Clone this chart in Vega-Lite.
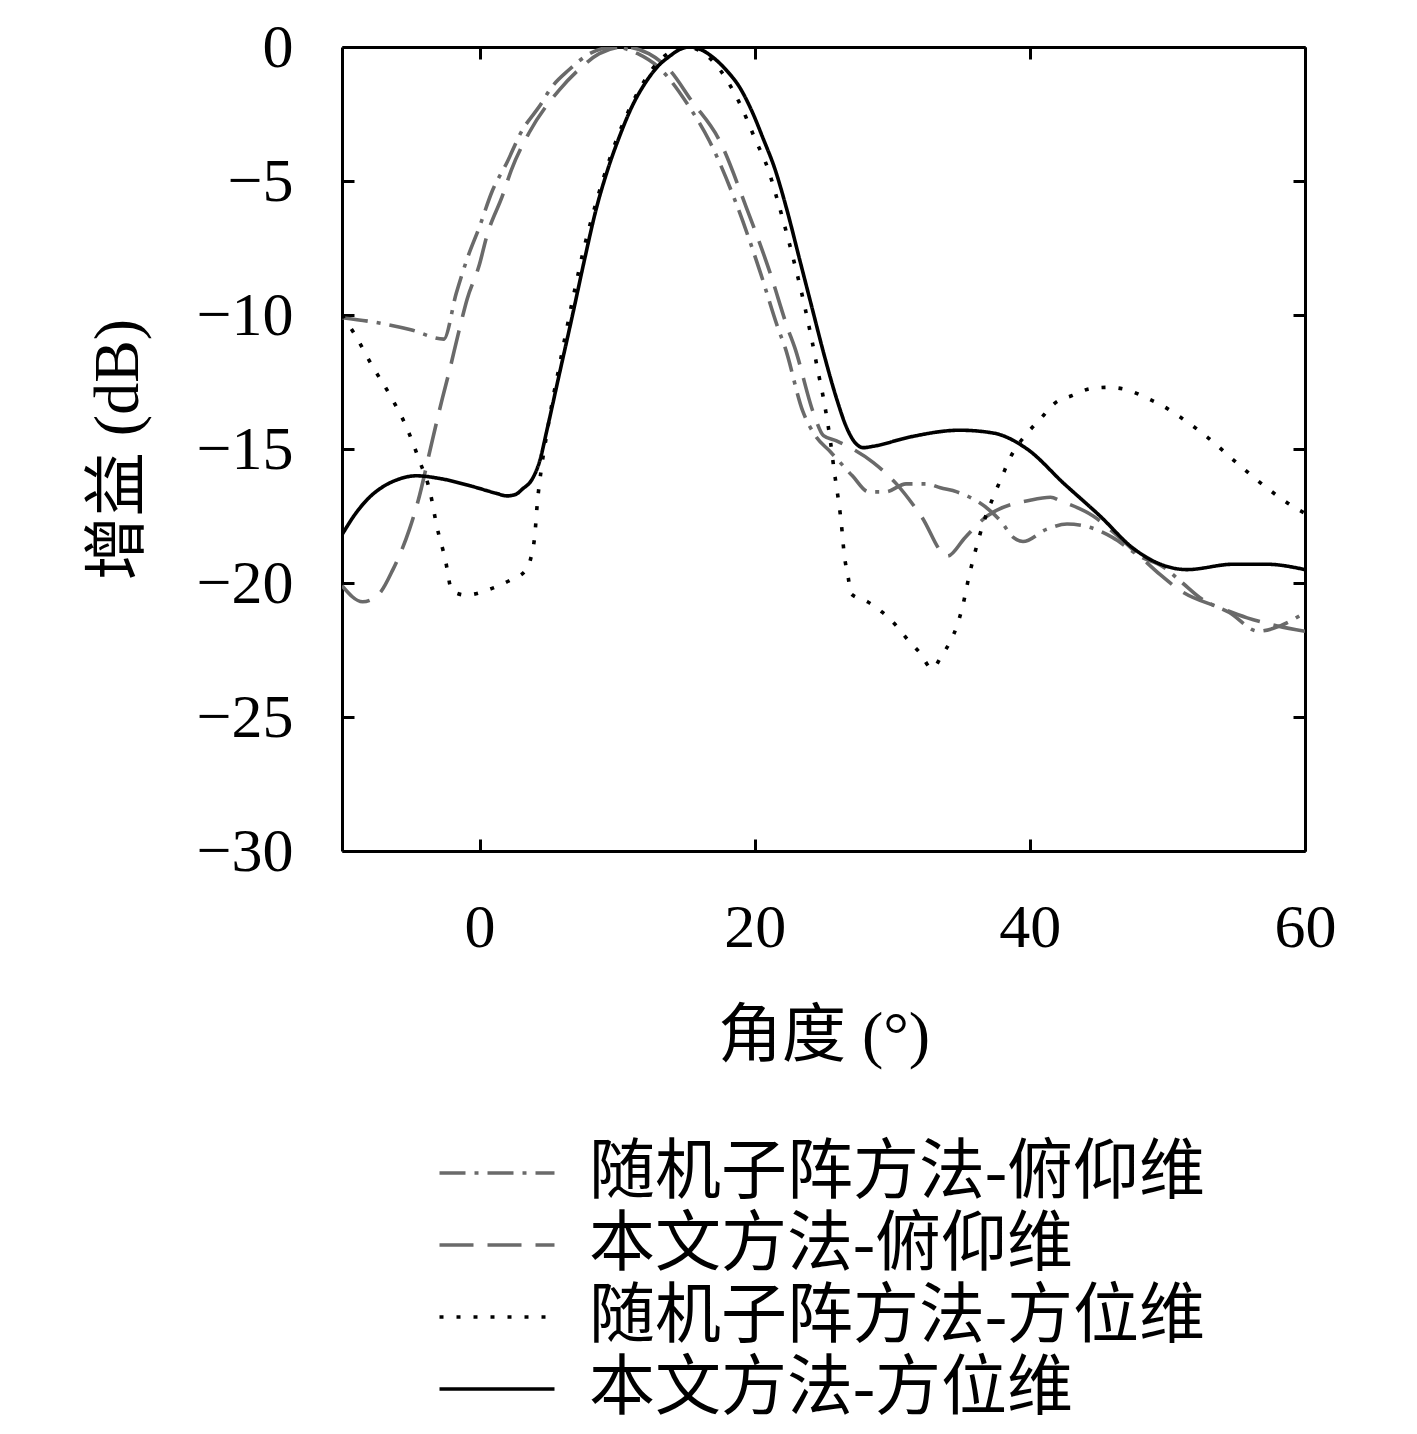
{
  "$schema": "https://vega.github.io/schema/vega-lite/v6.json",
  "autosize": {"type": "none"},
  "padding": {"left": 342, "top": 47, "right": 112, "bottom": 583},
  "width": 963,
  "height": 804,
  "background": "white",
  "config": {
    "view": {"stroke": null},
    "axis": {
      "grid": false,
      "domainColor": "black",
      "domainWidth": 3,
      "tickColor": "black",
      "tickWidth": 3,
      "tickSize": -12,
      "labelFont": "Liberation Serif",
      "labelFontSize": 62,
      "labelColor": "black",
      "titleFont": "Liberation Serif, Noto Sans CJK SC",
      "titleFontSize": 64,
      "titleFontWeight": "normal",
      "titleColor": "black"
    },
    "legend": {
      "title": null,
      "orient": "none",
      "legendX": 122,
      "legendY": 1093,
      "padding": 0,
      "symbolType": "M-2,0H2",
      "symbolSize": 3306,
      "labelFont": "Liberation Serif, Noto Sans CJK SC",
      "labelFontSize": 66,
      "labelColor": "black",
      "labelOffset": 59,
      "labelLimit": 1000,
      "rowPadding": 6
    }
  },
  "data": {
    "values": [
      {"series": "随机子阵方法-俯仰维", "angle": -10, "gain": -10.1},
      {"series": "随机子阵方法-俯仰维", "angle": -7.3, "gain": -10.3},
      {"series": "随机子阵方法-俯仰维", "angle": -5, "gain": -10.55},
      {"series": "随机子阵方法-俯仰维", "angle": -2.6, "gain": -10.9},
      {"series": "随机子阵方法-俯仰维", "angle": -1.7, "gain": -9.2},
      {"series": "随机子阵方法-俯仰维", "angle": -0.9, "gain": -7.9},
      {"series": "随机子阵方法-俯仰维", "angle": 0, "gain": -6.7},
      {"series": "随机子阵方法-俯仰维", "angle": 0.9, "gain": -5.4},
      {"series": "随机子阵方法-俯仰维", "angle": 2.0, "gain": -4.3},
      {"series": "随机子阵方法-俯仰维", "angle": 3.0, "gain": -3.2},
      {"series": "随机子阵方法-俯仰维", "angle": 4.5, "gain": -2.1},
      {"series": "随机子阵方法-俯仰维", "angle": 5.1, "gain": -1.6},
      {"series": "随机子阵方法-俯仰维", "angle": 6.5, "gain": -0.85},
      {"series": "随机子阵方法-俯仰维", "angle": 8.0, "gain": -0.25},
      {"series": "随机子阵方法-俯仰维", "angle": 9.8, "gain": 0},
      {"series": "随机子阵方法-俯仰维", "angle": 11.5, "gain": -0.25},
      {"series": "随机子阵方法-俯仰维", "angle": 13.1, "gain": -0.8},
      {"series": "随机子阵方法-俯仰维", "angle": 15.2, "gain": -2.2},
      {"series": "随机子阵方法-俯仰维", "angle": 16.7, "gain": -3.5},
      {"series": "随机子阵方法-俯仰维", "angle": 18.7, "gain": -5.9},
      {"series": "随机子阵方法-俯仰维", "angle": 20.4, "gain": -8.4},
      {"series": "随机子阵方法-俯仰维", "angle": 21.7, "gain": -10.5},
      {"series": "随机子阵方法-俯仰维", "angle": 22.2, "gain": -11.2},
      {"series": "随机子阵方法-俯仰维", "angle": 23.5, "gain": -13.6},
      {"series": "随机子阵方法-俯仰维", "angle": 24.4, "gain": -14.5},
      {"series": "随机子阵方法-俯仰维", "angle": 25.5, "gain": -15.1},
      {"series": "随机子阵方法-俯仰维", "angle": 27.1, "gain": -16.0},
      {"series": "随机子阵方法-俯仰维", "angle": 28.3, "gain": -16.6},
      {"series": "随机子阵方法-俯仰维", "angle": 29.5, "gain": -16.6},
      {"series": "随机子阵方法-俯仰维", "angle": 31.0, "gain": -16.3},
      {"series": "随机子阵方法-俯仰维", "angle": 32.5, "gain": -16.3},
      {"series": "随机子阵方法-俯仰维", "angle": 33.5, "gain": -16.45},
      {"series": "随机子阵方法-俯仰维", "angle": 34.7, "gain": -16.6},
      {"series": "随机子阵方法-俯仰维", "angle": 37.1, "gain": -17.3},
      {"series": "随机子阵方法-俯仰维", "angle": 37.9, "gain": -17.7},
      {"series": "随机子阵方法-俯仰维", "angle": 38.8, "gain": -18.3},
      {"series": "随机子阵方法-俯仰维", "angle": 39.5, "gain": -18.45},
      {"series": "随机子阵方法-俯仰维", "angle": 41.2, "gain": -18.0},
      {"series": "随机子阵方法-俯仰维", "angle": 42.7, "gain": -17.8},
      {"series": "随机子阵方法-俯仰维", "angle": 44.2, "gain": -17.9},
      {"series": "随机子阵方法-俯仰维", "angle": 46.0, "gain": -18.3},
      {"series": "随机子阵方法-俯仰维", "angle": 48.0, "gain": -19.0},
      {"series": "随机子阵方法-俯仰维", "angle": 49.7, "gain": -19.4},
      {"series": "随机子阵方法-俯仰维", "angle": 51.1, "gain": -20.0},
      {"series": "随机子阵方法-俯仰维", "angle": 52.5, "gain": -20.6},
      {"series": "随机子阵方法-俯仰维", "angle": 54.5, "gain": -21.1},
      {"series": "随机子阵方法-俯仰维", "angle": 56.6, "gain": -21.8},
      {"series": "随机子阵方法-俯仰维", "angle": 58.2, "gain": -21.6},
      {"series": "随机子阵方法-俯仰维", "angle": 60, "gain": -21.1},

      {"series": "本文方法-俯仰维", "angle": -10, "gain": -20.1},
      {"series": "本文方法-俯仰维", "angle": -8.5, "gain": -20.7},
      {"series": "本文方法-俯仰维", "angle": -7.3, "gain": -20.4},
      {"series": "本文方法-俯仰维", "angle": -6.3, "gain": -19.5},
      {"series": "本文方法-俯仰维", "angle": -5.1, "gain": -18.0},
      {"series": "本文方法-俯仰维", "angle": -4.5, "gain": -17.0},
      {"series": "本文方法-俯仰维", "angle": -3.4, "gain": -14.6},
      {"series": "本文方法-俯仰维", "angle": -2.7, "gain": -13.1},
      {"series": "本文方法-俯仰维", "angle": -2.2, "gain": -12.1},
      {"series": "本文方法-俯仰维", "angle": -1.5, "gain": -10.6},
      {"series": "本文方法-俯仰维", "angle": -0.9, "gain": -9.4},
      {"series": "本文方法-俯仰维", "angle": 0, "gain": -8.1},
      {"series": "本文方法-俯仰维", "angle": 0.5, "gain": -7.1},
      {"series": "本文方法-俯仰维", "angle": 1.7, "gain": -5.5},
      {"series": "本文方法-俯仰维", "angle": 2.3, "gain": -4.6},
      {"series": "本文方法-俯仰维", "angle": 3.6, "gain": -3.2},
      {"series": "本文方法-俯仰维", "angle": 5.8, "gain": -1.6},
      {"series": "本文方法-俯仰维", "angle": 7.2, "gain": -0.85},
      {"series": "本文方法-俯仰维", "angle": 8.7, "gain": -0.25},
      {"series": "本文方法-俯仰维", "angle": 10.5, "gain": 0},
      {"series": "本文方法-俯仰维", "angle": 12.3, "gain": -0.25},
      {"series": "本文方法-俯仰维", "angle": 13.8, "gain": -0.85},
      {"series": "本文方法-俯仰维", "angle": 15.4, "gain": -2.0},
      {"series": "本文方法-俯仰维", "angle": 17.45, "gain": -3.5},
      {"series": "本文方法-俯仰维", "angle": 19.4, "gain": -6.0},
      {"series": "本文方法-俯仰维", "angle": 21.1, "gain": -8.4},
      {"series": "本文方法-俯仰维", "angle": 22.4, "gain": -10.5},
      {"series": "本文方法-俯仰维", "angle": 22.9, "gain": -11.2},
      {"series": "本文方法-俯仰维", "angle": 24.3, "gain": -13.7},
      {"series": "本文方法-俯仰维", "angle": 25.0, "gain": -14.5},
      {"series": "本文方法-俯仰维", "angle": 25.95, "gain": -14.7},
      {"series": "本文方法-俯仰维", "angle": 28.6, "gain": -15.5},
      {"series": "本文方法-俯仰维", "angle": 30.3, "gain": -16.3},
      {"series": "本文方法-俯仰维", "angle": 32.1, "gain": -17.5},
      {"series": "本文方法-俯仰维", "angle": 34.0, "gain": -19.0},
      {"series": "本文方法-俯仰维", "angle": 35.3, "gain": -18.3},
      {"series": "本文方法-俯仰维", "angle": 36.9, "gain": -17.5},
      {"series": "本文方法-俯仰维", "angle": 40.1, "gain": -16.9},
      {"series": "本文方法-俯仰维", "angle": 41.5, "gain": -16.8},
      {"series": "本文方法-俯仰维", "angle": 42.3, "gain": -16.95},
      {"series": "本文方法-俯仰维", "angle": 44.6, "gain": -17.5},
      {"series": "本文方法-俯仰维", "angle": 46.5, "gain": -18.3},
      {"series": "本文方法-俯仰维", "angle": 48.0, "gain": -19.0},
      {"series": "本文方法-俯仰维", "angle": 49.5, "gain": -19.7},
      {"series": "本文方法-俯仰维", "angle": 51.0, "gain": -20.3},
      {"series": "本文方法-俯仰维", "angle": 53.7, "gain": -20.9},
      {"series": "本文方法-俯仰维", "angle": 55.8, "gain": -21.3},
      {"series": "本文方法-俯仰维", "angle": 58.0, "gain": -21.6},
      {"series": "本文方法-俯仰维", "angle": 60, "gain": -21.8},

      {"series": "随机子阵方法-方位维", "angle": -10, "gain": -10.0},
      {"series": "随机子阵方法-方位维", "angle": -9.1, "gain": -10.7},
      {"series": "随机子阵方法-方位维", "angle": -7.8, "gain": -11.9},
      {"series": "随机子阵方法-方位维", "angle": -6.5, "gain": -13.0},
      {"series": "随机子阵方法-方位维", "angle": -5.3, "gain": -14.2},
      {"series": "随机子阵方法-方位维", "angle": -4.4, "gain": -15.4},
      {"series": "随机子阵方法-方位维", "angle": -3.6, "gain": -16.6},
      {"series": "随机子阵方法-方位维", "angle": -3.1, "gain": -17.9},
      {"series": "随机子阵方法-方位维", "angle": -2.5, "gain": -19.1},
      {"series": "随机子阵方法-方位维", "angle": -2.0, "gain": -20.3},
      {"series": "随机子阵方法-方位维", "angle": -1.0, "gain": -20.45},
      {"series": "随机子阵方法-方位维", "angle": 0.9, "gain": -20.2},
      {"series": "随机子阵方法-方位维", "angle": 2.2, "gain": -19.9},
      {"series": "随机子阵方法-方位维", "angle": 3.4, "gain": -19.5},
      {"series": "随机子阵方法-方位维", "angle": 3.8, "gain": -18.9},
      {"series": "随机子阵方法-方位维", "angle": 4.0, "gain": -18.3},
      {"series": "随机子阵方法-方位维", "angle": 4.2, "gain": -17.0},
      {"series": "随机子阵方法-方位维", "angle": 4.5, "gain": -15.7},
      {"series": "随机子阵方法-方位维", "angle": 4.9, "gain": -14.4},
      {"series": "随机子阵方法-方位维", "angle": 5.3, "gain": -13.2},
      {"series": "随机子阵方法-方位维", "angle": 5.8, "gain": -11.9},
      {"series": "随机子阵方法-方位维", "angle": 6.3, "gain": -10.6},
      {"series": "随机子阵方法-方位维", "angle": 6.9, "gain": -9.1},
      {"series": "随机子阵方法-方位维", "angle": 7.5, "gain": -7.7},
      {"series": "随机子阵方法-方位维", "angle": 8.2, "gain": -6.3},
      {"series": "随机子阵方法-方位维", "angle": 9.0, "gain": -4.9},
      {"series": "随机子阵方法-方位维", "angle": 10.0, "gain": -3.4},
      {"series": "随机子阵方法-方位维", "angle": 11.0, "gain": -2.2},
      {"series": "随机子阵方法-方位维", "angle": 12.0, "gain": -1.25},
      {"series": "随机子阵方法-方位维", "angle": 13.0, "gain": -0.55},
      {"series": "随机子阵方法-方位维", "angle": 14.0, "gain": -0.14},
      {"series": "随机子阵方法-方位维", "angle": 15.0, "gain": 0},
      {"series": "随机子阵方法-方位维", "angle": 16.0, "gain": -0.14},
      {"series": "随机子阵方法-方位维", "angle": 17.0, "gain": -0.55},
      {"series": "随机子阵方法-方位维", "angle": 18.0, "gain": -1.25},
      {"series": "随机子阵方法-方位维", "angle": 19.0, "gain": -2.2},
      {"series": "随机子阵方法-方位维", "angle": 20.0, "gain": -3.4},
      {"series": "随机子阵方法-方位维", "angle": 21.0, "gain": -4.6},
      {"series": "随机子阵方法-方位维", "angle": 21.7, "gain": -5.8},
      {"series": "随机子阵方法-方位维", "angle": 22.4, "gain": -7.1},
      {"series": "随机子阵方法-方位维", "angle": 23.0, "gain": -8.3},
      {"series": "随机子阵方法-方位维", "angle": 23.6, "gain": -9.6},
      {"series": "随机子阵方法-方位维", "angle": 24.1, "gain": -10.8},
      {"series": "随机子阵方法-方位维", "angle": 24.6, "gain": -12.1},
      {"series": "随机子阵方法-方位维", "angle": 25.1, "gain": -13.4},
      {"series": "随机子阵方法-方位维", "angle": 25.5, "gain": -14.7},
      {"series": "随机子阵方法-方位维", "angle": 25.8, "gain": -15.9},
      {"series": "随机子阵方法-方位维", "angle": 26.0, "gain": -16.6},
      {"series": "随机子阵方法-方位维", "angle": 26.3, "gain": -17.8},
      {"series": "随机子阵方法-方位维", "angle": 26.5, "gain": -18.9},
      {"series": "随机子阵方法-方位维", "angle": 26.8, "gain": -19.8},
      {"series": "随机子阵方法-方位维", "angle": 27.0, "gain": -20.4},
      {"series": "随机子阵方法-方位维", "angle": 28.2, "gain": -20.7},
      {"series": "随机子阵方法-方位维", "angle": 29.3, "gain": -21.1},
      {"series": "随机子阵方法-方位维", "angle": 30.3, "gain": -21.6},
      {"series": "随机子阵方法-方位维", "angle": 31.1, "gain": -22.1},
      {"series": "随机子阵方法-方位维", "angle": 32.0, "gain": -22.6},
      {"series": "随机子阵方法-方位维", "angle": 32.9, "gain": -23.2},
      {"series": "随机子阵方法-方位维", "angle": 33.6, "gain": -22.7},
      {"series": "随机子阵方法-方位维", "angle": 34.2, "gain": -22.2},
      {"series": "随机子阵方法-方位维", "angle": 34.7, "gain": -21.6},
      {"series": "随机子阵方法-方位维", "angle": 35.1, "gain": -20.9},
      {"series": "随机子阵方法-方位维", "angle": 35.6, "gain": -19.7},
      {"series": "随机子阵方法-方位维", "angle": 36.2, "gain": -18.5},
      {"series": "随机子阵方法-方位维", "angle": 36.6, "gain": -17.8},
      {"series": "随机子阵方法-方位维", "angle": 37.5, "gain": -16.6},
      {"series": "随机子阵方法-方位维", "angle": 38.0, "gain": -16.0},
      {"series": "随机子阵方法-方位维", "angle": 38.5, "gain": -15.4},
      {"series": "随机子阵方法-方位维", "angle": 40.0, "gain": -14.3},
      {"series": "随机子阵方法-方位维", "angle": 40.9, "gain": -13.8},
      {"series": "随机子阵方法-方位维", "angle": 41.8, "gain": -13.3},
      {"series": "随机子阵方法-方位维", "angle": 43.1, "gain": -13.0},
      {"series": "随机子阵方法-方位维", "angle": 44.4, "gain": -12.75},
      {"series": "随机子阵方法-方位维", "angle": 45.7, "gain": -12.7},
      {"series": "随机子阵方法-方位维", "angle": 47.1, "gain": -12.8},
      {"series": "随机子阵方法-方位维", "angle": 48.5, "gain": -13.1},
      {"series": "随机子阵方法-方位维", "angle": 49.7, "gain": -13.4},
      {"series": "随机子阵方法-方位维", "angle": 50.9, "gain": -13.8},
      {"series": "随机子阵方法-方位维", "angle": 53.0, "gain": -14.6},
      {"series": "随机子阵方法-方位维", "angle": 55.0, "gain": -15.5},
      {"series": "随机子阵方法-方位维", "angle": 57.1, "gain": -16.4},
      {"series": "随机子阵方法-方位维", "angle": 59.3, "gain": -17.2},
      {"series": "随机子阵方法-方位维", "angle": 60, "gain": -17.4},

      {"series": "本文方法-方位维", "angle": -10, "gain": -18.2},
      {"series": "本文方法-方位维", "angle": -9, "gain": -17.4},
      {"series": "本文方法-方位维", "angle": -8, "gain": -16.8},
      {"series": "本文方法-方位维", "angle": -7, "gain": -16.4},
      {"series": "本文方法-方位维", "angle": -6, "gain": -16.15},
      {"series": "本文方法-方位维", "angle": -4.6, "gain": -16.0},
      {"series": "本文方法-方位维", "angle": -2.9, "gain": -16.1},
      {"series": "本文方法-方位维", "angle": -0.5, "gain": -16.4},
      {"series": "本文方法-方位维", "angle": 1.2, "gain": -16.65},
      {"series": "本文方法-方位维", "angle": 2.0, "gain": -16.75},
      {"series": "本文方法-方位维", "angle": 2.6, "gain": -16.7},
      {"series": "本文方法-方位维", "angle": 3.1, "gain": -16.5},
      {"series": "本文方法-方位维", "angle": 3.85, "gain": -16.1},
      {"series": "本文方法-方位维", "angle": 4.4, "gain": -15.4},
      {"series": "本文方法-方位维", "angle": 4.85, "gain": -14.4},
      {"series": "本文方法-方位维", "angle": 5.8, "gain": -12.2},
      {"series": "本文方法-方位维", "angle": 6.8, "gain": -9.9},
      {"series": "本文方法-方位维", "angle": 7.6, "gain": -8.0},
      {"series": "本文方法-方位维", "angle": 8.5, "gain": -6.0},
      {"series": "本文方法-方位维", "angle": 9.3, "gain": -4.6},
      {"series": "本文方法-方位维", "angle": 10.2, "gain": -3.3},
      {"series": "本文方法-方位维", "angle": 11.1, "gain": -2.2},
      {"series": "本文方法-方位维", "angle": 12.1, "gain": -1.3},
      {"series": "本文方法-方位维", "angle": 13.0, "gain": -0.7},
      {"series": "本文方法-方位维", "angle": 13.8, "gain": -0.35},
      {"series": "本文方法-方位维", "angle": 14.6, "gain": -0.08},
      {"series": "本文方法-方位维", "angle": 15.3, "gain": 0},
      {"series": "本文方法-方位维", "angle": 16.1, "gain": -0.1},
      {"series": "本文方法-方位维", "angle": 17.0, "gain": -0.4},
      {"series": "本文方法-方位维", "angle": 18.0, "gain": -0.9},
      {"series": "本文方法-方位维", "angle": 18.9, "gain": -1.5},
      {"series": "本文方法-方位维", "angle": 19.8, "gain": -2.4},
      {"series": "本文方法-方位维", "angle": 20.6, "gain": -3.4},
      {"series": "本文方法-方位维", "angle": 21.5, "gain": -4.6},
      {"series": "本文方法-方位维", "angle": 22.3, "gain": -6.0},
      {"series": "本文方法-方位维", "angle": 23.3, "gain": -8.0},
      {"series": "本文方法-方位维", "angle": 24.2, "gain": -9.8},
      {"series": "本文方法-方位维", "angle": 25.0, "gain": -11.4},
      {"series": "本文方法-方位维", "angle": 26.0, "gain": -13.2},
      {"series": "本文方法-方位维", "angle": 26.6, "gain": -14.1},
      {"series": "本文方法-方位维", "angle": 27.2, "gain": -14.7},
      {"series": "本文方法-方位维", "angle": 27.9, "gain": -14.95},
      {"series": "本文方法-方位维", "angle": 28.6, "gain": -14.9},
      {"series": "本文方法-方位维", "angle": 31.3, "gain": -14.55},
      {"series": "本文方法-方位维", "angle": 34.9, "gain": -14.3},
      {"series": "本文方法-方位维", "angle": 37.3, "gain": -14.4},
      {"series": "本文方法-方位维", "angle": 39.8, "gain": -15.0},
      {"series": "本文方法-方位维", "angle": 42.5, "gain": -16.3},
      {"series": "本文方法-方位维", "angle": 45.1, "gain": -17.5},
      {"series": "本文方法-方位维", "angle": 47.5, "gain": -18.7},
      {"series": "本文方法-方位维", "angle": 49.5, "gain": -19.3},
      {"series": "本文方法-方位维", "angle": 51.4, "gain": -19.5},
      {"series": "本文方法-方位维", "angle": 54.8, "gain": -19.3},
      {"series": "本文方法-方位维", "angle": 57.2, "gain": -19.3},
      {"series": "本文方法-方位维", "angle": 60, "gain": -19.5}
    ]
  },
  "encoding": {
    "color": {
      "field": "series",
      "type": "nominal",
      "scale": {
        "domain": ["随机子阵方法-俯仰维", "本文方法-俯仰维", "随机子阵方法-方位维", "本文方法-方位维"],
        "range": ["#6a6a6a", "#6a6a6a", "#000000", "#000000"]
      }
    },
    "strokeDash": {
      "field": "series",
      "type": "nominal",
      "scale": {
        "domain": ["随机子阵方法-俯仰维", "本文方法-俯仰维", "随机子阵方法-方位维", "本文方法-方位维"],
        "range": [[26, 9, 4, 9], [34, 14], [4, 13], [1, 0]]
      }
    },
    "strokeWidth": {
      "field": "series",
      "type": "nominal",
      "scale": {
        "domain": ["随机子阵方法-俯仰维", "本文方法-俯仰维", "随机子阵方法-方位维", "本文方法-方位维"],
        "range": [3.6, 3.6, 4.4, 4.2]
      }
    }
  },
  "layer": [
    {
      "transform": [{"filter": "indexof(datum.series, '俯仰维') >= 0"}],
      "mark": {"type": "line", "interpolate": "monotone", "clip": true},
      "encoding": {
        "x": {
          "field": "angle",
          "type": "quantitative",
          "scale": {"domain": [-10, 60], "nice": false, "zero": false},
          "axis": {
            "orient": "bottom",
            "values": [0, 20, 40, 60],
            "format": "d",
            "labelFlush": false,
            "labelPadding": 58,
            "title": "角度 (°)",
            "titlePadding": 46
          }
        },
        "y": {
          "field": "gain",
          "type": "quantitative",
          "scale": {"domain": [-30, 0], "nice": false, "zero": false},
          "axis": {
            "orient": "left",
            "values": [0, -5, -10, -15, -20, -25, -30],
            "format": "d",
            "labelPadding": 61,
            "title": "增益 (dB)",
            "titlePadding": 46
          }
        }
      }
    },
    {
      "transform": [{"filter": "indexof(datum.series, '方位维') >= 0"}],
      "mark": {"type": "line", "interpolate": "monotone", "clip": true},
      "encoding": {
        "x": {
          "field": "angle",
          "type": "quantitative",
          "axis": {
            "orient": "top",
            "values": [0, 20, 40, 60],
            "labels": false,
            "title": null
          }
        },
        "y": {
          "field": "gain",
          "type": "quantitative",
          "axis": {
            "orient": "right",
            "values": [0, -5, -10, -15, -20, -25, -30],
            "labels": false,
            "title": null
          }
        }
      }
    }
  ],
  "resolve": {"axis": {"x": "independent", "y": "independent"}}
}
